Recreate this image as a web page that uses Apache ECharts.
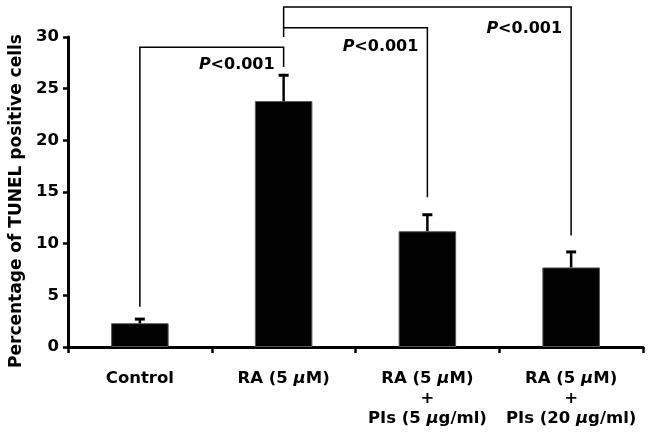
<!DOCTYPE html>
<html>
<head>
<meta charset="utf-8">
<script src="https://cdn.jsdelivr.net/npm/echarts@6/dist/echarts.min.js"></script>
<style>
  html, body { margin: 0; padding: 0; background: #fff; }
  #main { width: 650px; height: 437px; }
</style>
</head>
<body>
<div id="main"></div>
<script>
// groups on the x axis
const categories = [
  "Control",
  "RA (5 μM)",
  "RA (5 μM)\n+\nPIs (5 μg/ml)",
  "RA (5 μM)\n+\nPIs (20 μg/ml)"
];
// mean percentage of TUNEL positive cells
const means = [2.3, 23.8, 11.2, 7.7];
// upper end of error bar (mean + SD)
const errTops = [2.7, 26.3, 12.8, 9.2];
const yTicks = [0, 5, 10, 15, 20, 25, 30];

// significance brackets: [fromIdx, toIdx, topValue, leftFoot, rightFoot, labelValue]
const brackets = [
  [0, 1, 29.0, 3.9, 27.1, 27.3],
  [1, 2, 30.9, 30.0, 14.5, 29.0],
  [1, 3, 32.9, 30.9, 10.8, 30.8]
];
const pLabel = "P<0.001";

const FONT = "DejaVu Sans";
const myChart = echarts.init(document.getElementById("main"));

// rich-text version of a label: μ drawn in italics
const richLabel = (txt) =>
  txt.split("\n").map(line =>
    line.split("μ").map(p => p ? "{b|" + p + "}" : "").join("{i|μ}")
  ).join("\n");

const option = {
  animation: false,
  grid: { left: 68, right: 7, top: 37, bottom: 90 },
  xAxis: {
    type: "category",
    data: categories,
    axisLine: { lineStyle: { color: "#000", width: 3 } },
    axisTick: { show: true, length: 6, lineStyle: { color: "#000", width: 2.5 } },
    axisLabel: {
      margin: 22,
      interval: 0,
      formatter: (v) => richLabel(v),
      rich: {
        b: { fontFamily: FONT, fontWeight: "bold", fontSize: 16.5, color: "#000", lineHeight: 20 },
        i: { fontFamily: FONT, fontWeight: "bold", fontStyle: "italic", fontSize: 16.5, color: "#000", lineHeight: 20 }
      }
    }
  },
  yAxis: {
    type: "value",
    min: 0,
    max: 30,
    interval: 5,
    name: "Percentage of TUNEL positive cells",
    nameLocation: "middle",
    nameGap: 43,
    nameTextStyle: {
      fontFamily: FONT, fontWeight: "bold", fontSize: 17, color: "#000",
      padding: [0, 18, 0, 0]
    },
    axisLine: { show: true, lineStyle: { color: "#000", width: 3 } },
    axisTick: { show: true, length: 5, lineStyle: { color: "#000", width: 2.5 } },
    axisLabel: {
      margin: 9,
      fontFamily: FONT, fontWeight: "bold", fontSize: 16.5, color: "#000",
      formatter: (v) => yTicks.includes(v) ? String(v) : ""
    },
    splitLine: { show: false }
  },
  series: [
    {
      type: "bar",
      data: means,
      barWidth: "40%",
      itemStyle: { color: "#000", borderColor: "#555", borderWidth: 1 }
    },
    {
      // error bars (upper only)
      type: "custom",
      data: means.map((m, i) => [i, m, errTops[i]]),
      renderItem: (params, api) => {
        const base = api.coord([api.value(0), api.value(1)]);
        const top = api.coord([api.value(0), api.value(2)]);
        const hw = 5;
        return {
          type: "group",
          children: [
            { type: "line", shape: { x1: base[0], y1: base[1], x2: top[0], y2: top[1] },
              style: { stroke: "#000", lineWidth: 2.5 } },
            { type: "line", shape: { x1: top[0] - hw, y1: top[1], x2: top[0] + hw, y2: top[1] },
              style: { stroke: "#000", lineWidth: 3 } }
          ]
        };
      },
      z: 3
    },
    {
      // significance brackets with p-value labels
      type: "custom",
      clip: false,
      data: brackets,
      renderItem: (params, api) => {
        const a = api.value(0), b = api.value(1);
        const topL = api.coord([a, api.value(2)]);
        const topR = api.coord([b, api.value(2)]);
        const footL = api.coord([a, api.value(3)]);
        const footR = api.coord([b, api.value(4)]);
        const lab = api.coord([b, api.value(5)]);
        return {
          type: "group",
          children: [
            { type: "polyline",
              shape: { points: [[footL[0], footL[1]], [topL[0], topL[1]], [topR[0], topR[1]], [footR[0], footR[1]]] },
              style: { stroke: "#000", lineWidth: 1.5, fill: null } },
            { type: "text",
              x: lab[0] - 9, y: lab[1],
              style: {
                text: "{i|P}{b|" + pLabel.slice(1) + "}",
                align: "right", verticalAlign: "middle",
                rich: {
                  i: { fontFamily: FONT, fontWeight: "bold", fontStyle: "italic", fontSize: 16, fill: "#000" },
                  b: { fontFamily: FONT, fontWeight: "bold", fontSize: 16, fill: "#000" }
                }
              } }
          ]
        };
      },
      z: 4
    }
  ]
};

option && myChart.setOption(option);
</script>
</body>
</html>
